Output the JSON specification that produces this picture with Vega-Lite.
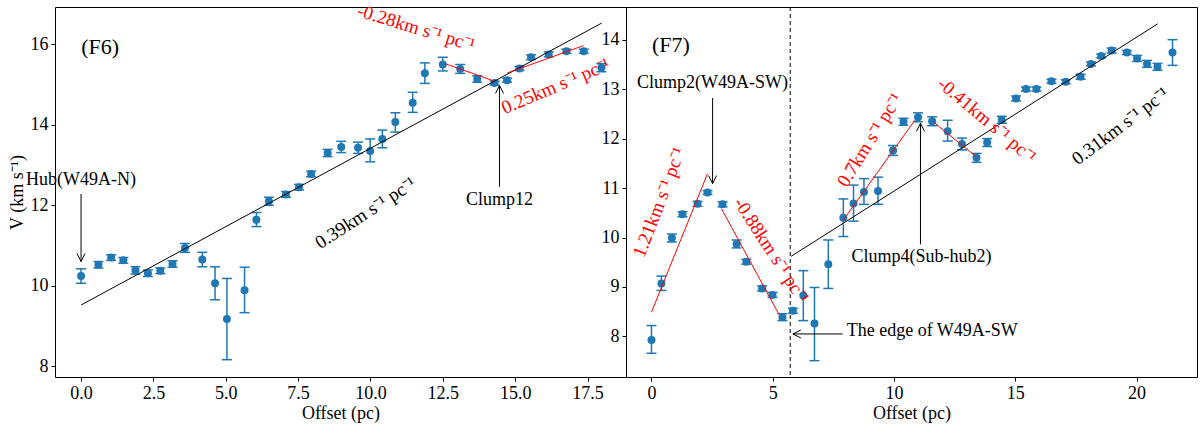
{
  "$schema": "https://vega.github.io/schema/vega-lite/v6.json",
  "description": "Velocity along filaments F6 and F7 with linear gradient fits",
  "padding": {"left": 7, "top": -2, "right": 0, "bottom": 0},
  "spacing": 0,
  "bounds": "flush",
  "config": {
    "view": {"stroke": "black", "strokeWidth": 1},
    "font": "Liberation Serif",
    "axis": {
      "domain": false, "grid": false, "ticks": true, "tickSize": 4, "tickColor": "black",
      "labelFont": "Liberation Serif", "labelFontSize": 18, "labelColor": "black", "labelPadding": 3,
      "titleFont": "Liberation Serif", "titleFontSize": 18, "titleFontWeight": "normal", "titleColor": "black"
    },
    "axisX": {"titlePadding": 2},
    "axisY": {"titlePadding": 4},
    "text": {"font": "Liberation Serif", "fontSize": 18}
  },
  "datasets": {
    "f6": [
      {"x": 0, "v": 10.24, "lo": 10.06, "hi": 10.42},
      {"x": 0.60, "v": 10.52, "lo": 10.44, "hi": 10.60},
      {"x": 1.04, "v": 10.70, "lo": 10.63, "hi": 10.77},
      {"x": 1.46, "v": 10.63, "lo": 10.56, "hi": 10.70},
      {"x": 1.88, "v": 10.38, "lo": 10.29, "hi": 10.47},
      {"x": 2.31, "v": 10.31, "lo": 10.23, "hi": 10.39},
      {"x": 2.74, "v": 10.37, "lo": 10.30, "hi": 10.44},
      {"x": 3.16, "v": 10.54, "lo": 10.46, "hi": 10.62},
      {"x": 3.59, "v": 10.94, "lo": 10.83, "hi": 11.05},
      {"x": 4.19, "v": 10.65, "lo": 10.47, "hi": 10.83},
      {"x": 4.63, "v": 10.06, "lo": 9.65, "hi": 10.47},
      {"x": 5.04, "v": 9.17, "lo": 8.16, "hi": 10.18},
      {"x": 5.65, "v": 9.89, "lo": 9.33, "hi": 10.46},
      {"x": 6.06, "v": 11.64, "lo": 11.47, "hi": 11.82},
      {"x": 6.49, "v": 12.10, "lo": 12.00, "hi": 12.20},
      {"x": 7.08, "v": 12.27, "lo": 12.20, "hi": 12.34},
      {"x": 7.53, "v": 12.45, "lo": 12.38, "hi": 12.52},
      {"x": 7.95, "v": 12.78, "lo": 12.71, "hi": 12.85},
      {"x": 8.52, "v": 13.30, "lo": 13.21, "hi": 13.39},
      {"x": 8.99, "v": 13.45, "lo": 13.31, "hi": 13.59},
      {"x": 9.57, "v": 13.43, "lo": 13.29, "hi": 13.57},
      {"x": 9.99, "v": 13.35, "lo": 13.08, "hi": 13.65},
      {"x": 10.41, "v": 13.65, "lo": 13.43, "hi": 13.87},
      {"x": 10.86, "v": 14.07, "lo": 13.82, "hi": 14.30},
      {"x": 11.46, "v": 14.55, "lo": 14.31, "hi": 14.81},
      {"x": 11.88, "v": 15.28, "lo": 15.03, "hi": 15.54},
      {"x": 12.50, "v": 15.50, "lo": 15.34, "hi": 15.68},
      {"x": 13.10, "v": 15.39, "lo": 15.28, "hi": 15.50},
      {"x": 13.69, "v": 15.14, "lo": 15.06, "hi": 15.22},
      {"x": 14.29, "v": 15.04, "lo": 14.99, "hi": 15.09},
      {"x": 14.72, "v": 15.11, "lo": 15.06, "hi": 15.16},
      {"x": 15.15, "v": 15.40, "lo": 15.35, "hi": 15.45},
      {"x": 15.55, "v": 15.68, "lo": 15.62, "hi": 15.74},
      {"x": 16.16, "v": 15.75, "lo": 15.69, "hi": 15.81},
      {"x": 16.77, "v": 15.83, "lo": 15.78, "hi": 15.88},
      {"x": 17.37, "v": 15.83, "lo": 15.78, "hi": 15.88},
      {"x": 17.98, "v": 15.42, "lo": 15.32, "hi": 15.52}
    ],
    "f6fit": [{"x": 0, "v": 9.52}, {"x": 17.99, "v": 16.53}],
    "f6red": [
      {"seg": "a", "x": 12.58, "v": 15.52}, {"seg": "a", "x": 14.27, "v": 15.09},
      {"seg": "b", "x": 14.73, "v": 15.29}, {"seg": "b", "x": 17.36, "v": 15.97}
    ],
    "f6notes": [
      {"label": "Hub(W49A-N)", "x": 0, "y": 12.63},
      {"label": "Clump12", "x": 14.46, "y": 12.14}
    ],
    "f6arrows": [
      {"x": 0, "y": 12.28, "x2": 0, "y2": 10.60, "dir": "down"},
      {"x": 14.46, "y": 12.46, "x2": 14.46, "y2": 14.98, "dir": "up"}
    ],
    "f7": [
      {"x": 0, "v": 7.93, "lo": 7.66, "hi": 8.22},
      {"x": 0.41, "v": 9.07, "lo": 8.93, "hi": 9.22},
      {"x": 0.84, "v": 9.99, "lo": 9.91, "hi": 10.07},
      {"x": 1.28, "v": 10.47, "lo": 10.42, "hi": 10.52},
      {"x": 1.90, "v": 10.68, "lo": 10.63, "hi": 10.73},
      {"x": 2.31, "v": 10.91, "lo": 10.87, "hi": 10.95},
      {"x": 2.93, "v": 10.67, "lo": 10.62, "hi": 10.72},
      {"x": 3.51, "v": 9.87, "lo": 9.79, "hi": 9.95},
      {"x": 3.91, "v": 9.51, "lo": 9.46, "hi": 9.56},
      {"x": 4.56, "v": 8.97, "lo": 8.92, "hi": 9.02},
      {"x": 4.99, "v": 8.84, "lo": 8.79, "hi": 8.89},
      {"x": 5.40, "v": 8.39, "lo": 8.32, "hi": 8.46},
      {"x": 5.83, "v": 8.52, "lo": 8.47, "hi": 8.57},
      {"x": 6.26, "v": 8.83, "lo": 8.32, "hi": 9.33},
      {"x": 6.72, "v": 8.26, "lo": 7.51, "hi": 8.99},
      {"x": 7.29, "v": 9.46, "lo": 8.97, "hi": 9.95},
      {"x": 7.91, "v": 10.40, "lo": 10.02, "hi": 10.78},
      {"x": 8.33, "v": 10.69, "lo": 10.33, "hi": 11.06},
      {"x": 8.76, "v": 10.92, "lo": 10.67, "hi": 11.19},
      {"x": 9.34, "v": 10.94, "lo": 10.67, "hi": 11.22},
      {"x": 9.96, "v": 11.76, "lo": 11.66, "hi": 11.86},
      {"x": 10.39, "v": 12.34, "lo": 12.27, "hi": 12.41},
      {"x": 10.99, "v": 12.43, "lo": 12.34, "hi": 12.52},
      {"x": 11.57, "v": 12.35, "lo": 12.26, "hi": 12.44},
      {"x": 12.21, "v": 12.15, "lo": 11.95, "hi": 12.37},
      {"x": 12.80, "v": 11.89, "lo": 11.77, "hi": 12.01},
      {"x": 13.40, "v": 11.61, "lo": 11.52, "hi": 11.70},
      {"x": 13.84, "v": 11.92, "lo": 11.84, "hi": 12.00},
      {"x": 14.44, "v": 12.38, "lo": 12.31, "hi": 12.45},
      {"x": 15.03, "v": 12.81, "lo": 12.76, "hi": 12.86},
      {"x": 15.44, "v": 13.00, "lo": 12.96, "hi": 13.04},
      {"x": 15.87, "v": 13.00, "lo": 12.96, "hi": 13.04},
      {"x": 16.49, "v": 13.16, "lo": 13.12, "hi": 13.20},
      {"x": 17.08, "v": 13.15, "lo": 13.11, "hi": 13.19},
      {"x": 17.69, "v": 13.25, "lo": 13.20, "hi": 13.30},
      {"x": 18.12, "v": 13.51, "lo": 13.47, "hi": 13.55},
      {"x": 18.54, "v": 13.67, "lo": 13.63, "hi": 13.71},
      {"x": 18.97, "v": 13.78, "lo": 13.73, "hi": 13.83},
      {"x": 19.60, "v": 13.74, "lo": 13.70, "hi": 13.78},
      {"x": 20.02, "v": 13.62, "lo": 13.56, "hi": 13.68},
      {"x": 20.43, "v": 13.51, "lo": 13.44, "hi": 13.58},
      {"x": 20.86, "v": 13.45, "lo": 13.38, "hi": 13.52},
      {"x": 21.48, "v": 13.74, "lo": 13.48, "hi": 14.00}
    ],
    "f7fit": [{"x": 5.76, "v": 9.62}, {"x": 20.87, "v": 14.32}],
    "f7red": [
      {"seg": "a", "x": 0, "v": 8.49}, {"seg": "a", "x": 2.31, "v": 11.29},
      {"seg": "b", "x": 2.89, "v": 10.58}, {"seg": "b", "x": 5.25, "v": 8.45},
      {"seg": "c", "x": 7.89, "v": 10.34}, {"seg": "c", "x": 10.86, "v": 12.37},
      {"seg": "d", "x": 11.61, "v": 12.34}, {"seg": "d", "x": 13.40, "v": 11.63}
    ],
    "f7notes": [
      {"label": "Clump2(W49A-SW)", "x": 2.52, "y": 13.12},
      {"label": "Clump4(Sub-hub2)", "x": 11.13, "y": 9.60}
    ],
    "f7arrows": [
      {"x": 2.52, "y": 12.82, "x2": 2.52, "y2": 11.09, "dir": "down"},
      {"x": 11.09, "y": 9.86, "x2": 11.09, "y2": 12.31, "dir": "up"},
      {"x": 7.88, "y": 8.05, "x2": 5.83, "y2": 8.05, "dir": "left"}
    ]
  },
  "hconcat": [
    {
      "width": 571,
      "height": 370,
      "encoding": {
        "x": {"field": "x", "type": "quantitative", "title": "Offset (pc)",
          "scale": {"domain": [-0.9, 18.83], "nice": false, "zero": false},
          "axis": {"values": [0, 2.5, 5, 7.5, 10, 12.5, 15, 17.5], "format": ".1f"}},
        "y": {"field": "v", "type": "quantitative", "title": "V (km s⁻¹)",
          "scale": {"domain": [7.73, 16.93], "nice": false, "zero": false},
          "axis": {"values": [8, 10, 12, 14, 16]}}
      },
      "layer": [
        {"data": {"name": "f6"}, "mark": {"type": "rule", "color": "#1f77b4", "strokeWidth": 1.5},
          "encoding": {"y": {"field": "lo", "type": "quantitative"}, "y2": {"field": "hi"}}},
        {"data": {"name": "f6"}, "mark": {"type": "point", "shape": "M-1,0L1,0", "filled": false, "color": "#1f77b4", "strokeWidth": 1.5, "size": 100, "opacity": 1},
          "encoding": {"y": {"field": "lo", "type": "quantitative"}}},
        {"data": {"name": "f6"}, "mark": {"type": "point", "shape": "M-1,0L1,0", "filled": false, "color": "#1f77b4", "strokeWidth": 1.5, "size": 100, "opacity": 1},
          "encoding": {"y": {"field": "hi", "type": "quantitative"}}},
        {"data": {"name": "f6"}, "mark": {"type": "point", "shape": "circle", "filled": true, "color": "#1f77b4", "size": 64, "opacity": 1}},
        {"data": {"name": "f6fit"}, "mark": {"type": "line", "color": "black", "strokeWidth": 1}},
        {"data": {"name": "f6red"}, "mark": {"type": "line", "color": "red", "strokeWidth": 1},
          "encoding": {"detail": {"field": "seg"}}},
        {"data": {"values": [{"label": "(F6)", "x": 0.66, "y": 15.93}]},
          "mark": {"type": "text", "fontSize": 22, "color": "black"},
          "encoding": {"y": {"field": "y", "type": "quantitative"}, "text": {"field": "label"}}},
        {"data": {"name": "f6notes"}, "mark": {"type": "text", "color": "black"},
          "encoding": {"y": {"field": "y", "type": "quantitative"}, "text": {"field": "label"}}},
        {"data": {"name": "f6arrows"}, "mark": {"type": "rule", "color": "black", "strokeWidth": 1},
          "encoding": {"y": {"field": "y", "type": "quantitative"}, "x2": {"field": "x2"}, "y2": {"field": "y2"}}},
        {"data": {"name": "f6arrows"}, "transform": [{"filter": {"field": "dir", "equal": "down"}}],
          "mark": {"type": "point", "shape": "M-0.5,-1L0,0L0.5,-1", "filled": false, "color": "black", "strokeWidth": 1, "size": 256, "opacity": 1},
          "encoding": {"x": {"field": "x2", "type": "quantitative"}, "y": {"field": "y2", "type": "quantitative"}}},
        {"data": {"name": "f6arrows"}, "transform": [{"filter": {"field": "dir", "equal": "up"}}],
          "mark": {"type": "point", "shape": "M-0.5,1L0,0L0.5,1", "filled": false, "color": "black", "strokeWidth": 1, "size": 256, "opacity": 1},
          "encoding": {"x": {"field": "x2", "type": "quantitative"}, "y": {"field": "y2", "type": "quantitative"}}},
        {"data": {"values": [{"label": "-0.28km s⁻¹    pc⁻¹", "x": 11.58, "y": 16.41}]},
          "mark": {"type": "text", "color": "red", "angle": 17, "fontSize": 19},
          "encoding": {"y": {"field": "y", "type": "quantitative"}, "text": {"field": "label"}}},
        {"data": {"values": [{"label": "0.25km s⁻¹    pc⁻¹", "x": 16.40, "y": 14.96}]},
          "mark": {"type": "text", "color": "red", "angle": -23, "fontSize": 19},
          "encoding": {"y": {"field": "y", "type": "quantitative"}, "text": {"field": "label"}}},
        {"data": {"values": [{"label": "0.39km s⁻¹    pc⁻¹", "x": 9.83, "y": 11.81}]},
          "mark": {"type": "text", "color": "black", "angle": -33, "fontSize": 19},
          "encoding": {"y": {"field": "y", "type": "quantitative"}, "text": {"field": "label"}}}
      ]
    },
    {
      "width": 571,
      "height": 370,
      "encoding": {
        "x": {"field": "x", "type": "quantitative", "title": "Offset (pc)",
          "scale": {"domain": [-1.05, 22.49], "nice": false, "zero": false},
          "axis": {"values": [0, 5, 10, 15, 20]}},
        "y": {"field": "v", "type": "quantitative", "title": null,
          "scale": {"domain": [7.18, 14.66], "nice": false, "zero": false},
          "axis": {"values": [8, 9, 10, 11, 12, 13, 14]}}
      },
      "layer": [
        {"data": {"values": [{"x": 5.72}]}, "mark": {"type": "rule", "color": "black", "strokeWidth": 1, "strokeDash": [4, 3]},
          "encoding": {"y": null}},
        {"data": {"name": "f7"}, "mark": {"type": "rule", "color": "#1f77b4", "strokeWidth": 1.5},
          "encoding": {"y": {"field": "lo", "type": "quantitative"}, "y2": {"field": "hi"}}},
        {"data": {"name": "f7"}, "mark": {"type": "point", "shape": "M-1,0L1,0", "filled": false, "color": "#1f77b4", "strokeWidth": 1.5, "size": 100, "opacity": 1},
          "encoding": {"y": {"field": "lo", "type": "quantitative"}}},
        {"data": {"name": "f7"}, "mark": {"type": "point", "shape": "M-1,0L1,0", "filled": false, "color": "#1f77b4", "strokeWidth": 1.5, "size": 100, "opacity": 1},
          "encoding": {"y": {"field": "hi", "type": "quantitative"}}},
        {"data": {"name": "f7"}, "mark": {"type": "point", "shape": "circle", "filled": true, "color": "#1f77b4", "size": 64, "opacity": 1}},
        {"data": {"name": "f7fit"}, "mark": {"type": "line", "color": "black", "strokeWidth": 1}},
        {"data": {"name": "f7red"}, "mark": {"type": "line", "color": "red", "strokeWidth": 1},
          "encoding": {"detail": {"field": "seg"}}},
        {"data": {"values": [{"label": "(F7)", "x": 0.80, "y": 13.89}]},
          "mark": {"type": "text", "fontSize": 22, "color": "black"},
          "encoding": {"y": {"field": "y", "type": "quantitative"}, "text": {"field": "label"}}},
        {"data": {"name": "f7notes"}, "mark": {"type": "text", "color": "black"},
          "encoding": {"y": {"field": "y", "type": "quantitative"}, "text": {"field": "label"}}},
        {"data": {"values": [{"label": "The edge of W49A-SW", "x": 8.05, "y": 8.11}]},
          "mark": {"type": "text", "color": "black", "align": "left"},
          "encoding": {"y": {"field": "y", "type": "quantitative"}, "text": {"field": "label"}}},
        {"data": {"name": "f7arrows"}, "mark": {"type": "rule", "color": "black", "strokeWidth": 1},
          "encoding": {"y": {"field": "y", "type": "quantitative"}, "x2": {"field": "x2"}, "y2": {"field": "y2"}}},
        {"data": {"name": "f7arrows"}, "transform": [{"filter": {"field": "dir", "equal": "down"}}],
          "mark": {"type": "point", "shape": "M-0.5,-1L0,0L0.5,-1", "filled": false, "color": "black", "strokeWidth": 1, "size": 256, "opacity": 1},
          "encoding": {"x": {"field": "x2", "type": "quantitative"}, "y": {"field": "y2", "type": "quantitative"}}},
        {"data": {"name": "f7arrows"}, "transform": [{"filter": {"field": "dir", "equal": "up"}}],
          "mark": {"type": "point", "shape": "M-0.5,1L0,0L0.5,1", "filled": false, "color": "black", "strokeWidth": 1, "size": 256, "opacity": 1},
          "encoding": {"x": {"field": "x2", "type": "quantitative"}, "y": {"field": "y2", "type": "quantitative"}}},
        {"data": {"name": "f7arrows"}, "transform": [{"filter": {"field": "dir", "equal": "left"}}],
          "mark": {"type": "point", "shape": "M1,-0.5L0,0L1,0.5", "filled": false, "color": "black", "strokeWidth": 1, "size": 256, "opacity": 1},
          "encoding": {"x": {"field": "x2", "type": "quantitative"}, "y": {"field": "y2", "type": "quantitative"}}},
        {"data": {"values": [{"label": "1.21km s⁻¹    pc⁻¹", "x": 0.32, "y": 10.71}]},
          "mark": {"type": "text", "color": "red", "angle": -69, "fontSize": 19},
          "encoding": {"y": {"field": "y", "type": "quantitative"}, "text": {"field": "label"}}},
        {"data": {"values": [{"label": "-0.88km s⁻¹    pc⁻¹", "x": 4.94, "y": 9.74}]},
          "mark": {"type": "text", "color": "red", "angle": 57, "fontSize": 19},
          "encoding": {"y": {"field": "y", "type": "quantitative"}, "text": {"field": "label"}}},
        {"data": {"values": [{"label": "0.7km s⁻¹    pc⁻¹", "x": 9.0, "y": 11.97}]},
          "mark": {"type": "text", "color": "red", "angle": -58, "fontSize": 19},
          "encoding": {"y": {"field": "y", "type": "quantitative"}, "text": {"field": "label"}}},
        {"data": {"values": [{"label": "-0.41km s⁻¹    pc⁻¹", "x": 13.83, "y": 12.37}]},
          "mark": {"type": "text", "color": "red", "angle": 40, "fontSize": 19},
          "encoding": {"y": {"field": "y", "type": "quantitative"}, "text": {"field": "label"}}},
        {"data": {"values": [{"label": "0.31km s⁻¹    pc⁻¹", "x": 19.33, "y": 12.25}]},
          "mark": {"type": "text", "color": "black", "angle": -37, "fontSize": 19},
          "encoding": {"y": {"field": "y", "type": "quantitative"}, "text": {"field": "label"}}}
      ]
    }
  ]
}
